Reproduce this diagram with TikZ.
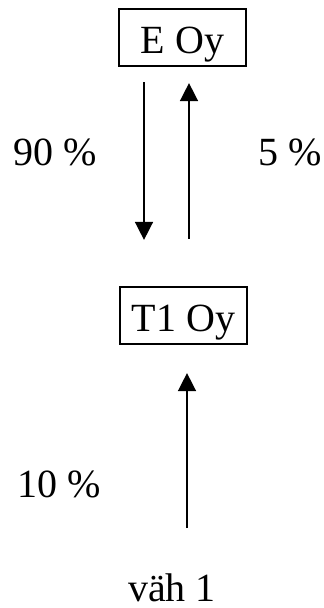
\documentclass[tikz,border=0pt]{standalone}
\usepackage{fontspec}
\setmainfont{Liberation Serif}
\usetikzlibrary{arrows.meta}
\tikzset{every node/.style={font=\fontsize{40}{48}\selectfont}}
\tikzset{
  statebox/.style={draw, line width=2.2pt, inner sep=0pt,
    minimum width=127pt, minimum height=57pt,
    text height=36pt, text depth=5pt},
  flow/.style={-{Triangle[width=18pt,length=18pt]}, line width=1.5pt},
  rate/.style={anchor=base west, inner sep=0pt}
}

\begin{document}
\begin{tikzpicture}[x=1pt, y=-1pt]

  % Page frame.
  \useasboundingbox (0,0) rectangle (324,608);

  % States.
  \node[statebox] (E) at (182.5,37.5) {E Oy};
  \node[statebox] (T1) at (183.5,315.5) {T1 Oy};

  % Source.
  \node[rate] (vah) at (128,601) {väh 1};
  \coordinate (src) at (187,528);

  % Transitions between E and T1.
  \draw[flow, shorten <=15pt, shorten >=46pt]
    ([xshift=-38.5pt]E.south) -- ([xshift=-38.5pt]E.south |- T1.north);
  \draw[flow, shorten <=47pt, shorten >=16pt]
    ([xshift=6.5pt]E.south |- T1.north) -- ([xshift=6.5pt]E.south);

  % Inflow into T1.
  \draw[flow, shorten >=28pt] (src) -- (src |- T1.south);

  % Rates.
  \node[rate] (r90) at (13,165) {90 \%};
  \node[rate] (r5) at (258,165) {5 \%};
  \node[rate] (r10) at (17,497) {10 \%};

\end{tikzpicture}
\end{document}
